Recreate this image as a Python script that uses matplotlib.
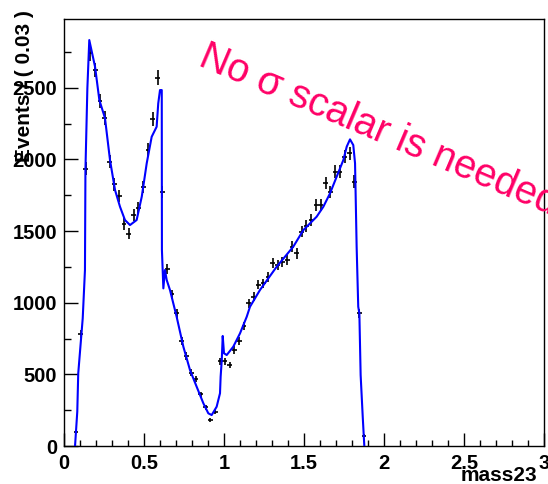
import matplotlib.pyplot as plt
import numpy as np

plt.rcParams['font.family'] = ['Liberation Sans', 'DejaVu Sans']

# Binned data: bin centres (width 0.03) and entries
bin_x = [0.075, 0.105, 0.135, 0.165, 0.195, 0.225, 0.255, 0.285, 0.315, 0.345,
         0.375, 0.405, 0.435, 0.465, 0.495, 0.525, 0.555, 0.585, 0.615, 0.645,
         0.675, 0.705, 0.735, 0.765, 0.795, 0.825, 0.855, 0.885, 0.915, 0.945,
         0.975, 1.005, 1.035, 1.065, 1.095, 1.125, 1.155, 1.185, 1.215, 1.245,
         1.275, 1.305, 1.335, 1.365, 1.395, 1.425, 1.455, 1.485, 1.515, 1.545,
         1.575, 1.605, 1.635, 1.665, 1.695, 1.725, 1.755, 1.785, 1.815, 1.845,
         1.875]
counts = [100, 785, 1935, 2740, 2625, 2405, 2290, 1985, 1825, 1745,
          1550, 1480, 1612, 1660, 1810, 2066, 2280, 2570, 1775, 1235,
          1058, 926, 733, 628, 512, 467, 361, 270, 181, 240,
          593, 593, 565, 670, 735, 835, 995, 1042, 1126, 1135,
          1182, 1275, 1263, 1286, 1298, 1391, 1345, 1496, 1535, 1577,
          1682, 1682, 1833, 1775, 1914, 1914, 2019, 2042, 1845, 926,
          72]

# Fitted model curve
fit_x = [0.069, 0.083, 0.089, 0.117, 0.131, 0.134, 0.146, 0.158, 0.194, 0.221,
         0.256, 0.2875, 0.319, 0.35, 0.381, 0.4125, 0.454, 0.486, 0.517, 0.548,
         0.579, 0.589, 0.6, 0.611, 0.612, 0.621, 0.631, 0.642, 0.6625, 0.704,
         0.746, 0.7875, 0.829, 0.871, 0.902, 0.923, 0.954, 0.975, 0.979, 0.986,
         0.992, 1.0, 1.017, 1.058, 1.1, 1.142, 1.1625, 1.225, 1.329, 1.433,
         1.496, 1.579, 1.621, 1.6625, 1.704, 1.746, 1.767, 1.7875, 1.808, 1.819,
         1.829, 1.839, 1.846, 1.854, 1.867, 1.877]
fit_y = [0, 240, 507, 891, 1228, 1926, 2496, 2833, 2647, 2414,
         2289, 1996, 1786, 1670, 1577, 1542, 1577, 1740, 1973, 2158,
         2228, 2391, 2484, 2484, 1368, 1100, 1228, 1158, 1088, 902,
         693, 530, 414, 298, 228, 216, 274, 368, 484, 600,
         768, 647, 635, 693, 786, 902, 972, 1089, 1251, 1391,
         1507, 1600, 1670, 1763, 1879, 1996, 2089, 2140, 2100, 1973,
         1391, 972, 926, 495, 205, 0]

fig = plt.figure(figsize=(5.48, 4.84), dpi=100)
ax = fig.add_axes([64 / 548, 1 - 446 / 484, 480 / 548, 427 / 484])

ax.errorbar(bin_x, counts, xerr=0.015, yerr=np.sqrt(counts), fmt='none',
            ecolor='black', elinewidth=1.2, capsize=0, zorder=2)
ax.plot(fit_x, fit_y, color='#0000ff', lw=1.5, zorder=3)

ax.set_xlim(0, 3)
ax.set_ylim(0, 2980)
ax.set_xticks(np.arange(0, 3.01, 0.5))
ax.set_xticklabels(['0', '0.5', '1', '1.5', '2', '2.5', '3'])
ax.set_xticks(np.arange(0, 3.01, 0.1), minor=True)
ax.set_yticks(np.arange(0, 2501, 500))
ax.set_yticks(np.arange(250, 2980, 250), minor=True)

ax.tick_params(axis='both', which='both', direction='in', top=False, right=False,
               width=1.0, labelsize=14.5)
ax.tick_params(axis='x', which='major', length=9.2, pad=5.5)
ax.tick_params(axis='x', which='minor', length=4.6)
ax.tick_params(axis='y', which='major', length=10.4, pad=5)
ax.tick_params(axis='y', which='minor', length=5.2)
for lab in ax.get_xticklabels() + ax.get_yticklabels():
    lab.set_fontweight('bold')
for s in ax.spines.values():
    s.set_linewidth(1.0)

fig.text(25 / 548, 1 - 10 / 484, 'Events / ( 0.03 )', rotation=90,
         ha='center', va='top', fontsize=15, fontweight='bold')
fig.text(537 / 548, 1 - 481 / 484, 'mass23', ha='right', va='baseline',
         fontsize=15, fontweight='bold')

# Annotation across the upper right
fig.text(197 / 548, 1 - 65 / 484, 'No σ scalar is needed', rotation=-23,
         rotation_mode='anchor', ha='left', va='baseline',
         fontsize=28.5, color='#ff0066')

plt.savefig('out.png', dpi=100)
